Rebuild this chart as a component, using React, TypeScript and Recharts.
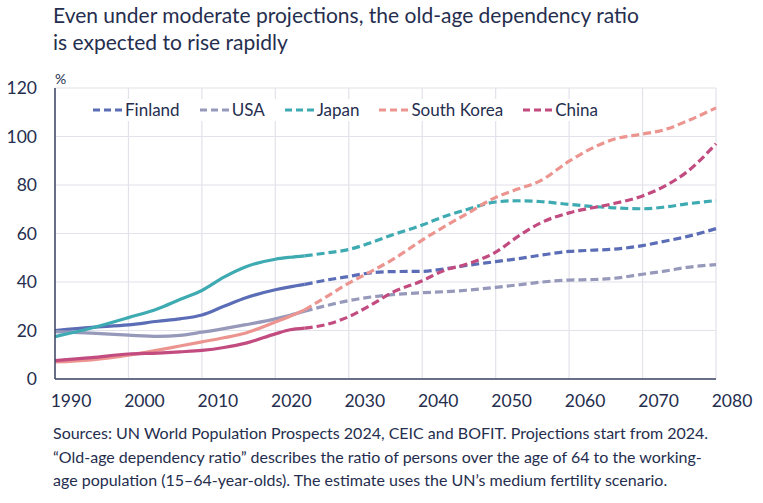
import { CartesianGrid, Line, LineChart, XAxis, YAxis } from "recharts";

const YEARS = [
  1990, 1995, 2000, 2004, 2007, 2010, 2013, 2016, 2020, 2022, 2024, 2027, 2030, 2033,
  2036, 2040, 2043, 2046, 2050, 2053, 2056, 2060, 2063, 2066, 2070, 2073, 2076, 2080,
];
const FINLAND = [
  20.0, 21.3, 22.3, 23.8, 24.8, 26.4, 30.0, 33.5, 36.8, 38.0, 39.0, 40.8, 42.3, 43.8,
  44.3, 44.4, 45.4, 46.8, 48.4, 49.6, 51.0, 52.6, 53.1, 53.5, 55.0, 56.8, 58.7, 62.0,
];
const USA = [
  19.5, 18.9, 18.1, 17.6, 18.0, 19.3, 20.8, 22.4, 24.8, 26.3, 28.0, 30.3, 32.3, 33.8,
  34.8, 35.6, 36.0, 36.6, 37.8, 38.8, 39.9, 40.8, 41.0, 41.5, 43.2, 44.5, 46.0, 47.2,
];
const JAPAN = [
  17.5, 21.0, 25.3, 29.0, 32.8, 36.5, 42.0, 46.3, 49.4, 50.2, 50.8, 52.0, 53.4, 56.2,
  59.5, 63.5, 67.0, 69.8, 73.0, 73.5, 73.2, 72.0, 71.2, 70.6, 70.2, 70.9, 72.2, 73.6,
];
const SOUTH_KOREA = [
  7.0, 7.9, 9.8, 11.9, 13.6, 15.3, 17.0, 19.0, 23.5, 25.9, 28.5, 34.0, 39.5, 44.3,
  49.3, 57.3, 62.8, 68.0, 74.9, 78.3, 81.6, 89.8, 95.0, 98.8, 101.0, 102.8, 106.3, 111.8,
];
const CHINA = [
  7.6, 8.8, 10.3, 10.7, 11.2, 11.8, 13.0, 14.8, 18.6, 20.3, 21.0, 22.5, 25.7, 30.5,
  35.8, 40.5, 44.8, 47.3, 52.3, 58.7, 64.2, 68.5, 70.5, 72.3, 75.5, 79.5, 85.3, 97.0,
];
const PROJECTION_START = 2024;
const X_TICKS = [1990, 2000, 2010, 2020, 2030, 2040, 2050, 2060, 2070, 2080];
const Y_TICKS = [0, 20, 40, 60, 80, 100, 120];

const SERIES = [
  { key: "fin", name: "Finland", color: "#5b6db6", values: FINLAND },
  { key: "usa", name: "USA", color: "#9799bb", values: USA },
  { key: "jpn", name: "Japan", color: "#3eaab1", values: JAPAN },
  { key: "kor", name: "South Korea", color: "#ec9590", values: SOUTH_KOREA },
  { key: "chn", name: "China", color: "#c24b80", values: CHINA },
];

const data = YEARS.map((year, i) => {
  const row: Record<string, number | undefined> = { year };
  SERIES.forEach((s) => {
    row[s.key + "H"] = year <= PROJECTION_START ? s.values[i] : undefined;
    row[s.key + "P"] = year >= PROJECTION_START ? s.values[i] : undefined;
  });
  return row;
});

const TEXT = "#252e4e";
const AXIS = "#3c4463";
const FONT = "Lato, 'Open Sans', sans-serif";
const DASH = "8 4";

export default function App() {
  return (
    <div style={{ position: "absolute", left: 0, top: 0, width: 763, height: 503, background: "#fff", fontFamily: FONT, color: TEXT }}>
      <div style={{ position: "absolute", left: 53, top: 1, fontSize: 21, lineHeight: "27px", whiteSpace: "nowrap" }}>
        Even under moderate projections, the old-age dependency ratio
        <br />
        is expected to rise rapidly
      </div>
      <div style={{ position: "absolute", left: 55, top: 70, fontSize: 14 }}>%</div>

      <LineChart width={763} height={420} data={data} margin={{ top: 88, right: 47, bottom: 11, left: 15 }}>
        <CartesianGrid stroke="#e2e2ea" strokeWidth={1.2} />
        <XAxis
          dataKey="year"
          type="number"
          domain={[1990, 2080]}
          ticks={X_TICKS}
          height={30}
          tickLine={false}
          tickSize={0}
          tickMargin={16}
          axisLine={{ stroke: AXIS, strokeWidth: 1.5 }}
          tick={{ fill: TEXT, fontSize: 17.5, dx: 16 }}
        />
        <YAxis
          type="number"
          domain={[0, 120]}
          ticks={Y_TICKS}
          width={40}
          tickLine={false}
          tickSize={0}
          tickMargin={18}
          axisLine={{ stroke: AXIS, strokeWidth: 1.5 }}
          tick={{ fill: TEXT, fontSize: 17.5 }}
        />
        {SERIES.map((s) => (
          <Line
            key={s.key + "H"}
            dataKey={s.key + "H"}
            type="monotone"
            stroke={s.color}
            strokeWidth={3.2}
            dot={false}
            isAnimationActive={false}
          />
        ))}
        {SERIES.map((s) => (
          <Line
            key={s.key + "P"}
            dataKey={s.key + "P"}
            type="monotone"
            stroke={s.color}
            strokeWidth={3.2}
            strokeDasharray={DASH}
            dot={false}
            isAnimationActive={false}
          />
        ))}
      </LineChart>

      <div style={{ position: "absolute", left: 93, top: 99, display: "flex", fontSize: 17, lineHeight: "22px", background: "#fff" }}>
        {SERIES.map((s) => (
          <div key={s.key} style={{ display: "flex", alignItems: "center", marginRight: 20 }}>
            <svg width={30} height={22}>
              <line x1={0} y1={11} x2={30} y2={11} stroke={s.color} strokeWidth={3} strokeDasharray="7 4" />
            </svg>
            <span style={{ marginLeft: 2 }}>{s.name}</span>
          </div>
        ))}
      </div>

      <div style={{ position: "absolute", left: 53, top: 421, fontSize: 16, lineHeight: "23.5px", whiteSpace: "nowrap" }}>
        Sources: UN World Population Prospects 2024, CEIC and BOFIT. Projections start from 2024.
        <br />
        “Old-age dependency ratio” describes the ratio of persons over the age of 64 to the working-
        <br />
        age population (15–64-year-olds). The estimate uses the UN’s medium fertility scenario.
      </div>
    </div>
  );
}
